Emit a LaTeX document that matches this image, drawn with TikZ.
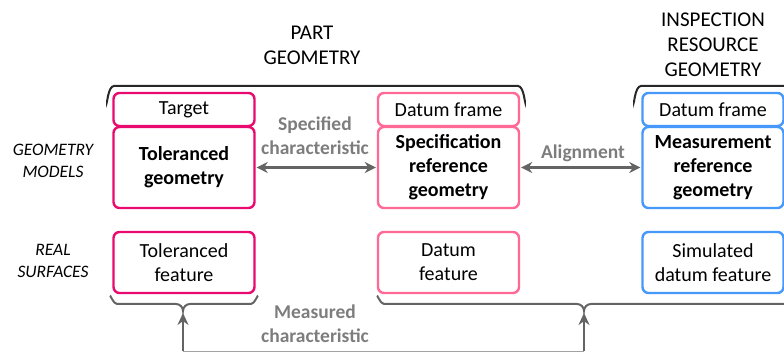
\documentclass[tikz,border=0pt]{standalone}
\usepackage{fontspec}
\setmainfont{Carlito}
\usetikzlibrary{arrows.meta}
\definecolor{pinkA}{RGB}{232,10,110}
\definecolor{pinkB}{RGB}{255,105,150}
\definecolor{blueC}{RGB}{70,152,250}
\definecolor{grayArrow}{RGB}{100,100,100}
\definecolor{grayText}{RGB}{125,125,125}
\definecolor{braceC}{RGB}{40,40,40}
\tikzset{
  box/.style={draw, line width=2.4pt, rounded corners=6pt, align=center, inner sep=0pt, font=\fontsize{20}{24}\selectfont, text=black, minimum width=141pt},
  hdr/.style={box, minimum height=33pt},
  geo/.style={box, minimum height=81pt, font=\fontsize{20}{24}\selectfont\bfseries},
  real/.style={box, minimum height=61pt},
  title/.style={align=center, font=\fontsize{21}{25}\selectfont, text=black},
  side/.style={align=center, font=\fontsize{17.5}{22}\selectfont\itshape, text=black},
  glabel/.style={align=center, font=\fontsize{19.5}{24}\selectfont\bfseries, text=grayText},
  dbl/.style={{Stealth[length=11pt,width=11pt]}-{Stealth[length=11pt,width=11pt]}, line width=2.6pt, draw=grayArrow},
  uparrow/.style={-{Stealth[length=12pt,width=11pt]}, line width=2.4pt, draw=grayArrow},
  brace/.style={line width=2pt, draw=grayArrow},
  topbrace/.style={line width=2pt, draw=braceC},
}
\begin{document}
\begin{tikzpicture}[x=1pt,y=-1pt]
\useasboundingbox (0,0) rectangle (784,352);
% titles
\node[title] (tpart) at (312,45) {PART\\GEOMETRY};
\node[title] (tinsp) at (713,45) {INSPECTION\\RESOURCE\\GEOMETRY};
% side labels
\node[side] (sgeo) at (53,161) {GEOMETRY\\MODELS};
\node[side] (sreal) at (53,261) {REAL\\SURFACES};
% top brackets
\draw[topbrace] (107,100) to[out=-90,in=180] (114,86) -- (518,86) to[out=0,in=-90] (525,100);
\draw[topbrace] (634,100) to[out=-90,in=180] (641,86) -- (790,86);
% left column
\node[hdr, draw=pinkA] (target) at (184,109.5) {Target};
\node[geo, draw=pinkA] (tolgeo) at (184,167.5) {Toleranced\\geometry};
\node[real, draw=pinkA] (tolfeat) at (184,262.5) {Toleranced\\feature};
% middle column
\node[hdr, draw=pinkB] (dfA) at (448.5,109.5) {Datum frame};
\node[geo, draw=pinkB] (specgeo) at (448.5,167.5) {Specification\\reference\\geometry};
\node[real, draw=pinkB] (datfeat) at (448.5,262.5) {Datum\\feature};
% right column
\node[hdr, draw=blueC] (dfB) at (713,109.5) {Datum frame};
\node[geo, draw=blueC] (measgeo) at (713,167.5) {Measurement\\reference\\geometry};
\node[real, draw=blueC] (simfeat) at (713,262.5) {Simulated\\datum feature};
% horizontal arrows
\draw[dbl] ([xshift=1pt]tolgeo.east) -- ([xshift=-1pt]specgeo.west);
\node[glabel] (lspec) at (315,136) {Specified\\characteristic};
\draw[dbl] ([xshift=1pt]specgeo.east) -- ([xshift=-1pt]measgeo.west);
\node[glabel] (lalign) at (583,153) {Alignment};
% bottom braces
\draw[brace] (110,297) to[out=90,in=180] (117,304) -- (176,304) to[out=0,in=90] (183,311) to[out=90,in=180] (190,304) -- (251,304) to[out=0,in=90] (258,297);
\draw[brace] (377,297) to[out=90,in=180] (384,304) -- (577,304) to[out=0,in=90] (584,311) to[out=90,in=180] (591,304) -- (790,304);
\coordinate (tipL) at (183,313);
\coordinate (tipR) at (584,313);
\coordinate (botL) at (183,351.5);
\coordinate (botR) at (584,351.5);
\draw[uparrow] (botL) -- (tipL);
\draw[uparrow] (botR) -- (tipR);
\draw[line width=1.2pt, draw=grayArrow!60] (botL) -- (botR);
\node[glabel] (lmeas) at (315,324) {Measured\\characteristic};
\end{tikzpicture}
\end{document}
